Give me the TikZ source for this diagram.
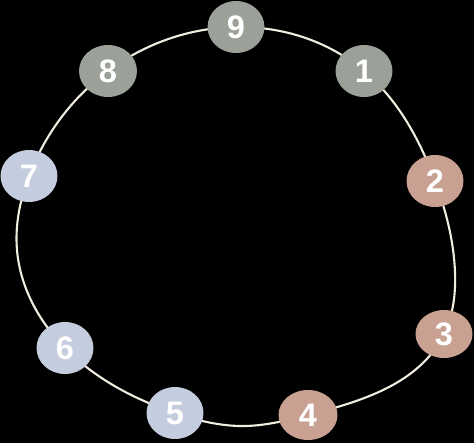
\documentclass[tikz,border=0pt]{standalone}
\usepackage{fontspec}
\setmainfont{Liberation Sans}
\usetikzlibrary{shapes.geometric,backgrounds,hobby}
\definecolor{sage}{RGB}{155,160,152}
\definecolor{clay}{RGB}{201,161,146}
\definecolor{mist}{RGB}{196,205,222}
\definecolor{ringc}{RGB}{240,236,222}
\begin{document}
\begin{tikzpicture}[x=0.02cm,y=-0.02cm,
  blob/.style={ellipse, inner sep=0pt, minimum width=1.14cm, minimum height=1.04cm,
    text=white, font=\fontsize{18.5}{21}\selectfont\bfseries},
  ring/.style={draw=ringc, line width=1.2pt}]
\useasboundingbox (0,0) rectangle (474,443);
\node[blob, fill=sage] (n9) at (236,27) {9};
\node[blob, fill=sage] (n1) at (364,71) {1};
\node[blob, fill=clay] (n2) at (435,181) {2};
\node[blob, fill=clay, minimum height=0.96cm] (n3) at (444,334) {3};
\node[blob, fill=clay, minimum width=1.18cm, minimum height=1.0cm] (n4) at (308,415) {4};
\node[blob, fill=mist] (n5) at (175,413) {5};
\node[blob, fill=mist] (n6) at (65,348) {6};
\node[blob, fill=mist] (n7) at (29,176) {7};
\node[blob, fill=sage, minimum width=1.16cm] (n8) at (108,71) {8};
\coordinate (e) at (455,272);
\coordinate (s) at (245,426);
\coordinate (w) at (17,250);
\begin{scope}[on background layer]
  \fill[black] (0,0) rectangle (474,443);
  \draw[ring, use Hobby shortcut, closed=true] (n9) .. (n1) .. (n2) .. (e) .. (n3) .. (n4) .. (s) .. (n5) .. (n6) .. (w) .. (n7) .. (n8);
\end{scope}
\end{tikzpicture}
\end{document}
